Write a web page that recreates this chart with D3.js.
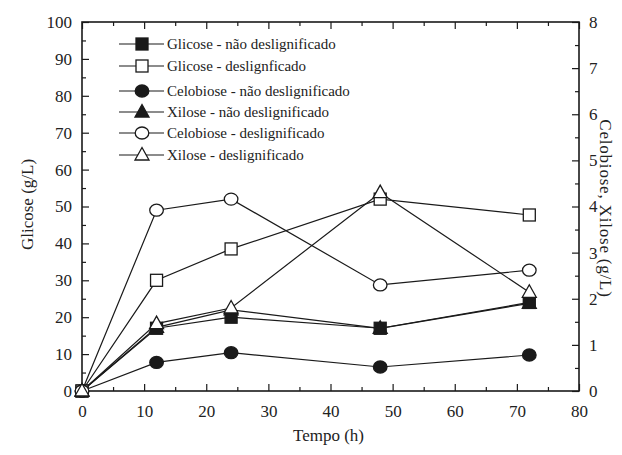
<!DOCTYPE html>
<html>
<head>
<meta charset="utf-8">
<script src="https://cdn.jsdelivr.net/npm/d3@7"></script>
</head>
<body style="margin:0">
<script>
// Sampling times (h)
const tempo = [0, 12, 24, 48, 72];

// Glucose, left axis (g/L)
const glicoseNaoDeslig = [0, 17, 20, 17, 24];
const glicoseDeslig = [0, 30, 38.5, 52, 47.7];

// Cellobiose and xylose, right axis (g/L)
const celobioseNaoDeslig = [0, 0.62, 0.83, 0.52, 0.78];
const xiloseNaoDeslig = [0, 1.38, 1.76, 1.36, 1.9];
const celobioseDeslig = [0, 3.92, 4.16, 2.3, 2.62];
const xiloseDeslig = [0, 1.46, 1.8, 4.3, 2.14];

const xTicks = [0, 10, 20, 30, 40, 50, 60, 70, 80];
const yLeftTicks = [0, 10, 20, 30, 40, 50, 60, 70, 80, 90, 100];
const yRightTicks = [0, 1, 2, 3, 4, 5, 6, 7, 8];

const series = [
  { name: "Glicose - não deslignificado", values: glicoseNaoDeslig, axis: "left", shape: "square", filled: true },
  { name: "Glicose - deslignficado", values: glicoseDeslig, axis: "left", shape: "square", filled: false },
  { name: "Celobiose - não deslignificado", values: celobioseNaoDeslig, axis: "right", shape: "circle", filled: true },
  { name: "Xilose - não deslignificado", values: xiloseNaoDeslig, axis: "right", shape: "triangle", filled: true },
  { name: "Celobiose - deslignificado", values: celobioseDeslig, axis: "right", shape: "circle", filled: false },
  { name: "Xilose - deslignificado", values: xiloseDeslig, axis: "right", shape: "triangle", filled: false }
];

const FONT = '"Times New Roman"';
const svg = d3.select("body").append("svg")
  .attr("width", 622).attr("height", 455)
  .style("display", "block")
  .style("font-family", FONT);
const L = 82, R = 579, T = 22, B = 391;

const x = d3.scaleLinear().domain([0, 80]).range([L, R]);
const yL = d3.scaleLinear().domain([0, 100]).range([B, T]);
const yR = d3.scaleLinear().domain([0, 8]).range([B, T]);

const ink = "#1a1a1a";

// Frame ticks: major and minor, drawn inward on every side
function styleAxis(g) {
  g.attr("font-family", FONT).attr("font-size", 17);
  g.select(".domain").remove();
  g.selectAll("line").attr("stroke", ink).attr("stroke-width", 1.2);
  g.selectAll("text").style("font-family", FONT).attr("fill", "#222");
}

// Bottom
svg.append("g").attr("transform", `translate(0,${B})`)
  .call(d3.axisBottom(x).tickValues(xTicks).tickSize(-7).tickPadding(14).tickFormat(d3.format("d")))
  .call(styleAxis);
svg.append("g").attr("transform", `translate(0,${B})`)
  .call(d3.axisBottom(x).tickValues(d3.range(5, 80, 10)).tickSize(-4).tickFormat(""))
  .call(styleAxis);
// Top
svg.append("g").attr("transform", `translate(0,${T})`)
  .call(d3.axisTop(x).tickValues(xTicks).tickSize(-7).tickFormat(""))
  .call(styleAxis);
svg.append("g").attr("transform", `translate(0,${T})`)
  .call(d3.axisTop(x).tickValues(d3.range(5, 80, 10)).tickSize(-4).tickFormat(""))
  .call(styleAxis);
// Left
svg.append("g").attr("transform", `translate(${L},0)`)
  .call(d3.axisLeft(yL).tickValues(yLeftTicks).tickSize(-7).tickPadding(10).tickFormat(d3.format("d")))
  .call(styleAxis);
svg.append("g").attr("transform", `translate(${L},0)`)
  .call(d3.axisLeft(yL).tickValues(d3.range(5, 100, 10)).tickSize(-4).tickFormat(""))
  .call(styleAxis);
// Right
svg.append("g").attr("transform", `translate(${R},0)`)
  .call(d3.axisRight(yR).tickValues(yRightTicks).tickSize(-7).tickPadding(10).tickFormat(d3.format("d")))
  .call(styleAxis);
svg.append("g").attr("transform", `translate(${R},0)`)
  .call(d3.axisRight(yR).tickValues(d3.range(0.5, 8, 1)).tickSize(-4).tickFormat(""))
  .call(styleAxis);

// Plot frame
svg.append("rect").attr("x", L).attr("y", T).attr("width", R - L).attr("height", B - T)
  .attr("fill", "none").attr("stroke", ink).attr("stroke-width", 1.6);

// Axis titles
function title(sel) {
  return sel.style("font-family", FONT).attr("font-size", 17).attr("fill", "#222")
    .attr("text-anchor", "middle");
}
svg.append("text").attr("transform", `translate(33,${(T + B) / 2 - 2}) rotate(-90)`)
  .call(title).text("Glicose (g/L)");
svg.append("text").attr("transform", `translate(600,${(T + B) / 2 + 2}) rotate(90)`)
  .call(title).attr("letter-spacing", 0.8).text("Celobiose, Xilose (g/L)");
svg.append("text").attr("x", (L + R) / 2 - 2).attr("y", 441)
  .call(title).text("Tempo (h)");

// Marker drawing
function drawMarker(sel, s) {
  const fill = s.filled ? ink : "#fff";
  if (s.shape === "square") {
    sel.append("rect").attr("x", -6).attr("y", -6).attr("width", 12).attr("height", 12)
      .attr("fill", fill).attr("stroke", ink).attr("stroke-width", 1.3);
  } else if (s.shape === "circle") {
    sel.append("ellipse").attr("rx", 6.8).attr("ry", 6).attr("fill", fill)
      .attr("stroke", ink).attr("stroke-width", 1.3);
  } else {
    sel.append("path").attr("d", "M0,-7.5 L7,5 L-7,5 Z").attr("fill", fill)
      .attr("stroke", ink).attr("stroke-width", 1.3);
  }
}

// Lines and markers
series.forEach(s => {
  const y = s.axis === "left" ? yL : yR;
  const pts = tempo.map((t, i) => [x(t), y(s.values[i])]);
  svg.append("path").attr("d", d3.line()(pts))
    .attr("fill", "none").attr("stroke", ink).attr("stroke-width", 1.2);
});
series.forEach(s => {
  const y = s.axis === "left" ? yL : yR;
  tempo.forEach((t, i) => {
    const g = svg.append("g").attr("transform", `translate(${x(t)},${y(s.values[i])})`);
    drawMarker(g, s);
  });
});

// Legend
const legendRows = [44, 66, 91, 112, 133, 155];
series.forEach((s, i) => {
  const g = svg.append("g").attr("transform", `translate(0,${legendRows[i]})`);
  g.append("line").attr("x1", 119).attr("x2", 164).attr("stroke", ink).attr("stroke-width", 1.2);
  const m = g.append("g").attr("transform", "translate(142,0)");
  drawMarker(m, s);
  g.append("text").attr("x", 167).attr("y", 5).style("font-family", FONT).attr("fill", "#222")
    .attr("font-size", 15).text(s.name);
});
</script>
</body>
</html>
